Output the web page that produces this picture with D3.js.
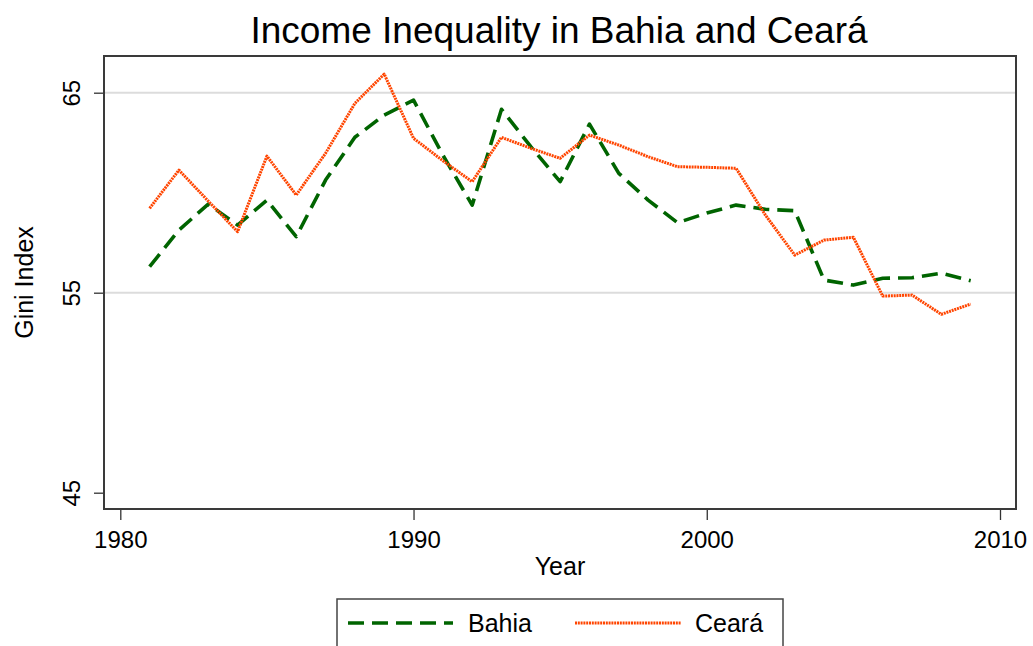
<!DOCTYPE html>
<html>
<head>
<meta charset="utf-8">
<script src="https://cdn.jsdelivr.net/npm/d3@7"></script>
<style>
  body { margin: 0; background: #fff; }
  text { font-family: Arial, "Liberation Sans", sans-serif; fill: #000; }
</style>
</head>
<body>
<svg id="chart" width="1033" height="646"></svg>
<script>
const years = [1981, 1982, 1983, 1984, 1985, 1986, 1987, 1988, 1989, 1990,
  1991, 1992, 1993, 1994, 1995, 1996, 1997, 1998, 1999, 2000,
  2001, 2002, 2003, 2004, 2005, 2006, 2007, 2008, 2009];
const bahia = [56.30, 58.13, 59.43, 58.38, 59.63, 57.80, 60.63, 62.77, 63.88, 64.63,
  61.88, 59.38, 64.17, 62.30, 60.55, 63.43, 60.97, 59.63, 58.50, 58.98,
  59.38, 59.17, 59.10, 55.63, 55.38, 55.72, 55.75, 55.97, 55.60];
const ceara = [59.22, 61.13, 59.58, 58.05, 61.83, 59.88, 61.97, 64.47, 65.93, 62.72,
  61.60, 60.55, 62.77, 62.22, 61.72, 62.88, 62.38, 61.80, 61.30, 61.27,
  61.22, 58.88, 56.88, 57.63, 57.77, 54.83, 54.88, 53.92, 54.43];
const xTicks = [1980, 1990, 2000, 2010];
const yTicks = [45, 55, 65];
const gridValues = [55, 65];

const svg = d3.select('#chart');
const plot = { left: 104, top: 56, right: 1016, bottom: 509 };

// scales fitted so 1980 sits at ~120px and 2010 at ~1000px
const x = d3.scaleLinear().domain([1980, 2010]).range([120.3, 1000]);
const y = d3.scaleLinear().domain([45, 65]).range([492.7, 92.7]);

// title
svg.append('text')
  .attr('x', 559).attr('y', 43)
  .attr('text-anchor', 'middle')
  .style('font-size', '37px')
  .text('Income Inequality in Bahia and Ceará');

// grid lines
svg.selectAll('.grid')
  .data(gridValues)
  .enter()
  .append('line')
  .attr('class', 'grid')
  .attr('x1', plot.left).attr('x2', plot.right)
  .attr('y1', d => y(d)).attr('y2', d => y(d))
  .attr('stroke', '#dcdcdc')
  .attr('stroke-width', 2);

// y axis
const yAxis = d3.axisLeft(y).tickValues(yTicks).tickSize(10).tickFormat(d3.format('d'));
const yg = svg.append('g').attr('transform', `translate(${plot.left},0)`).call(yAxis);
yg.select('.domain').remove();
yg.selectAll('line').attr('stroke', '#333').attr('stroke-width', 1.3);
yg.selectAll('text').remove();
yg.selectAll('.tick')
  .append('text')
  .attr('transform', 'translate(-24,0) rotate(-90)')
  .attr('text-anchor', 'middle')
  .attr('y', 0)
  .style('font-size', '24px')
  .text(d => d);

// x axis
const xAxis = d3.axisBottom(x).tickValues(xTicks).tickSize(11).tickFormat(d3.format('d'));
const xg = svg.append('g').attr('transform', `translate(0,${plot.bottom})`).call(xAxis);
xg.select('.domain').remove();
xg.selectAll('line').attr('stroke', '#333').attr('stroke-width', 1.3);
xg.selectAll('text')
  .attr('y', 39).attr('dy', 0)
  .style('font-size', '24px')
  .style('font-family', 'Arial, "Liberation Sans", sans-serif');

// frame
svg.append('rect')
  .attr('x', plot.left).attr('y', plot.top)
  .attr('width', plot.right - plot.left)
  .attr('height', plot.bottom - plot.top)
  .attr('fill', 'none')
  .attr('stroke', '#3a3a3a')
  .attr('stroke-width', 2);

// axis titles
svg.append('text')
  .attr('transform', `translate(33,${(plot.top + plot.bottom) / 2}) rotate(-90)`)
  .attr('text-anchor', 'middle')
  .style('font-size', '25px')
  .text('Gini Index');

svg.append('text')
  .attr('x', 560).attr('y', 575)
  .attr('text-anchor', 'middle')
  .style('font-size', '25px')
  .text('Year');

// lines
const series = [
  { name: 'Bahia', values: bahia, color: '#006400', width: 3.6, dash: '16 8' },
  { name: 'Ceará', values: ceara, color: '#ff4500', width: 3, dash: '2 0.8' }
];

const line = d3.line()
  .x(d => x(d.year))
  .y(d => y(d.value));

svg.selectAll('.series')
  .data(series)
  .enter()
  .append('path')
  .attr('class', 'series')
  .attr('d', s => line(years.map((yr, i) => ({ year: yr, value: s.values[i] }))))
  .attr('fill', 'none')
  .attr('stroke', s => s.color)
  .attr('stroke-width', s => s.width)
  .attr('stroke-dasharray', s => s.dash)
  .attr('stroke-linejoin', 'round');

// legend
svg.append('rect')
  .attr('x', 337).attr('y', 599)
  .attr('width', 446).attr('height', 60)
  .attr('fill', '#fff')
  .attr('stroke', '#444')
  .attr('stroke-width', 1.5);

const legendItems = [
  { s: series[0], x1: 348, x2: 453, tx: 468 },
  { s: series[1], x1: 575, x2: 681, tx: 695 }
];

const legends = svg.selectAll('.legend')
  .data(legendItems)
  .enter()
  .append('g')
  .attr('class', 'legend');

legends.append('line')
  .attr('x1', d => d.x1).attr('x2', d => d.x2)
  .attr('y1', 623).attr('y2', 623)
  .attr('stroke', d => d.s.color)
  .attr('stroke-width', d => d.s.width)
  .attr('stroke-dasharray', d => d.s.dash);

legends.append('text')
  .attr('x', d => d.tx).attr('y', 632)
  .style('font-size', '25px')
  .text(d => d.s.name);
</script>
</body>
</html>
